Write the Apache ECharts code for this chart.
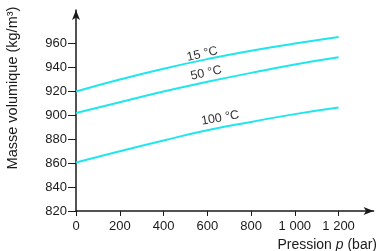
<!DOCTYPE html>
<html><head><meta charset="utf-8">
<style>html,body{margin:0;padding:0;background:#fff}#c{width:388px;height:251px}</style>
<script src="https://cdn.jsdelivr.net/npm/echarts@6/dist/echarts.min.js"></script>
</head><body><div id="c"></div>
<script>
const pressions = [0, 200, 400, 600, 800, 1000, 1200];
const rho15 = [920, 930, 939, 947, 954, 960, 965.5];
const rho50 = [902, 911, 920, 928, 935.5, 942.5, 948.5];
const rho100 = [860.5, 870, 879, 887.5, 894.5, 901, 906.5];
const xTicks = [0, 200, 400, 600, 800, 1000, 1200];
const yTicks = [820, 840, 860, 880, 900, 920, 940, 960];
const curveLabels = [
  { text: '15 °C', p: 577, v: 951.2, rot: 13 },
  { text: '50 °C', p: 595, v: 935.3, rot: 12 },
  { text: '100 °C', p: 659, v: 897.7, rot: 10 }
];
const font = 'Liberation Sans, Arial, sans-serif';
const ink = '#1a1a1a';
const cyan = '#1fe6ee';

function mk(vals, lab) {
  return {
    type: 'line', smooth: true, symbol: 'none',
    data: pressions.map((p, i) => [p, vals[i]]),
    lineStyle: { color: cyan, width: 2 },
    markPoint: {
      symbol: 'circle', symbolSize: 0, silent: true,
      data: [{ coord: [lab.p, lab.v], value: lab.text }],
      label: { show: true, position: 'inside', formatter: lab.text, rotate: lab.rot,
        color: '#333', fontSize: 12.5, fontFamily: font }
    }
  };
}

const chart = echarts.init(document.getElementById('c'));
chart.setOption({
  animation: false,
  grid: { left: 76, right: 14.4, top: 10.1, bottom: 40, containLabel: false },
  xAxis: {
    type: 'value', min: 0, max: 1360,
    axisLine: { show: true, symbol: ['none', 'arrow'], symbolSize: [6, 10],
      lineStyle: { color: ink, width: 1.5 } },
    axisTick: { show: true, length: 5, customValues: xTicks, lineStyle: { color: ink, width: 1 } },
    axisLabel: { customValues: xTicks, margin: 9, color: ink, fontSize: 13, fontFamily: font,
      formatter: v => v >= 1000 ? Math.floor(v / 1000) + ' ' + String(v % 1000).padStart(3, '0') : String(v) },
    splitLine: { show: false }
  },
  yAxis: {
    type: 'value', min: 820, max: 988,
    axisLine: { show: true, symbol: ['none', 'arrow'], symbolSize: [6, 10],
      lineStyle: { color: ink, width: 1.5 } },
    axisTick: { show: true, length: 8, customValues: yTicks, lineStyle: { color: ink, width: 1 } },
    axisLabel: { customValues: yTicks, margin: 9, color: ink, fontSize: 13, fontFamily: font },
    splitLine: { show: false }
  },
  series: [mk(rho15, curveLabels[0]), mk(rho50, curveLabels[1]), mk(rho100, curveLabels[2])],
  graphic: [
    { type: 'text', x: 13, y: 88, rotation: Math.PI / 2,
      style: { text: 'Masse volumique (kg/m³)', fill: ink, fontSize: 14.5, fontFamily: font,
        align: 'center', verticalAlign: 'middle' } },
    { type: 'text', x: 377, y: 245.5,
      style: { text: '{a|Pression }{b|p}{a| (bar)}', align: 'right', verticalAlign: 'middle',
        rich: { a: { fill: ink, fontSize: 14, fontFamily: font },
                b: { fill: ink, fontSize: 14, fontFamily: font, fontStyle: 'italic' } } } }
  ]
});
</script></body></html>
